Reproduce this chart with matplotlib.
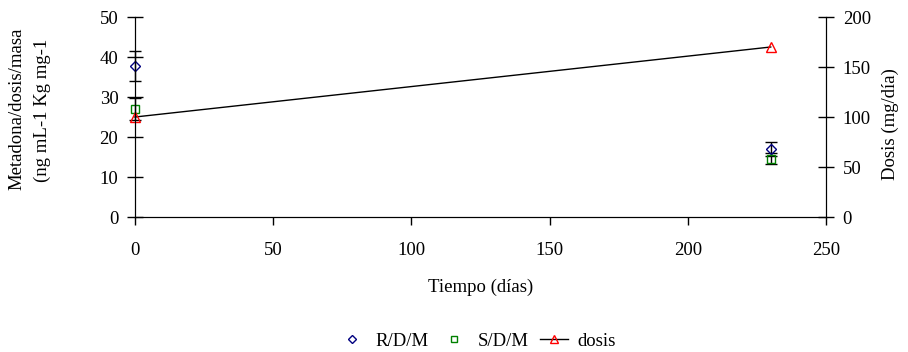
import matplotlib
matplotlib.use("Agg")
import matplotlib.pyplot as plt
from matplotlib.lines import Line2D

plt.rcParams['font.family'] = ['Liberation Serif', 'DejaVu Serif']
plt.rcParams['font.size'] = 13.5

tiempo = [0, 230]
rdm = [37.8, 17.0]
rdm_err = [3.75, 1.8]
sdm = [27.0, 14.6]
sdm_err = [2.7, 1.4]
dosis = [100, 170]

fig = plt.figure(figsize=(9.08, 3.52), dpi=100)
ax = fig.add_axes([135/908, 1 - 217/352, (826 - 135)/908, 200/352])
ax2 = ax.twinx()

for vals, errs, mk, ms, col in [(rdm, rdm_err, 'D', 5, '#000080'),
                                (sdm, sdm_err, 's', 6, '#008000')]:
    cont = ax.errorbar(tiempo, vals, yerr=errs, fmt=mk, ms=ms, mfc='none', mec=col,
                       mew=1, ecolor='black', elinewidth=1, capsize=4, capthick=1)
    for art in cont.get_children():
        art.set_clip_on(False)
ax2.plot(tiempo, dosis, color='black', lw=1, marker='^', ms=7, mfc='none',
         mec='red', mew=1, clip_on=False)

ax.set_xlim(0, 250)
ax.set_ylim(0, 50)
ax2.set_ylim(0, 200)
ax.set_xticks(range(0, 251, 50))
ax.set_yticks(range(0, 51, 10))
ax2.set_yticks(range(0, 201, 50))
ax.spines['top'].set_visible(False)
ax2.spines['top'].set_visible(False)
ax.tick_params(axis='y', direction='inout', length=12, width=1, pad=6)
ax.tick_params(axis='x', direction='out', length=6, width=1, pad=12)
ax2.tick_params(axis='y', direction='inout', length=12, width=1, pad=6)

ax.set_xlabel('Tiempo (días)', labelpad=14)

fig.text(17/908, 1 - 190/352, 'Metadona/dosis/masa', rotation=90,
         ha='center', va='bottom')
fig.text(42/908, 1 - 182/352, '(ng mL-1 Kg mg-1', rotation=90,
         ha='center', va='bottom')
fig.text(890/908, 1 - 180/352, 'Dosis (mg/día)', rotation=90,
         ha='center', va='bottom')

handles = [
    Line2D([], [], ls='none', marker='D', ms=4, mfc='none', mec='#000080', mew=1),
    Line2D([], [], ls='none', marker='s', ms=5, mfc='none', mec='#008000', mew=1),
    Line2D([], [], color='black', lw=1, marker='^', ms=6, mfc='none', mec='red', mew=1),
]
fig.legend(handles, ['R/D/M', 'S/D/M', 'dosis'], loc='center',
           bbox_to_anchor=(477/908, 1 - 341/352), ncol=3, frameon=False,
           handlelength=1.5, columnspacing=0.6, handletextpad=0.5,
           borderpad=0, borderaxespad=0)

fig.savefig('out.png', dpi=100)
